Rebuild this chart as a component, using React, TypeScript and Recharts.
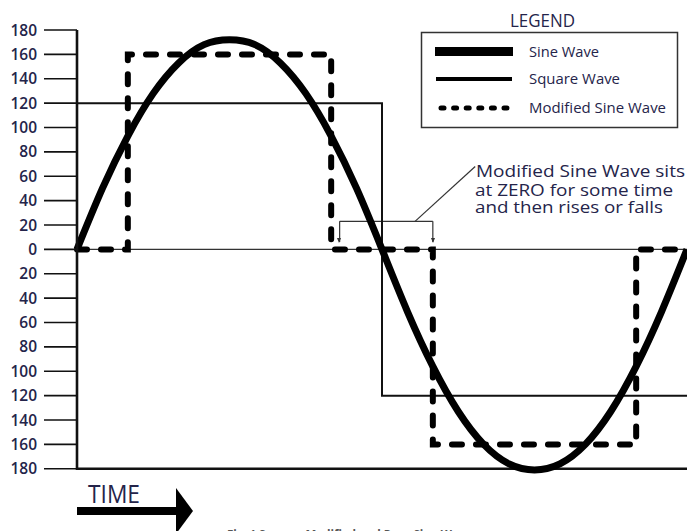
import React from 'react';
import { LineChart, Line, XAxis, YAxis, ReferenceLine } from 'recharts';

// ---- data (time in degrees of one cycle, values in volts) ----
const sineTimes = [0, 15, 30, 45, 60, 75, 90, 105, 120, 135, 150, 165, 180, 195, 210, 225, 240, 255, 270, 285, 300, 315, 330, 345, 360];
const sineValues = [0, 50, 93, 128, 153, 168, 172, 168, 153, 128, 93, 50, 0, -51, -96, -133, -160, -176, -181, -176, -160, -133, -96, -51, 0];

const squareTimes = [0, 180, 180, 360];
const squareValues = [120, 120, -120, -120];

const modTimes = [0, 30, 30, 150, 150, 210, 210, 330, 330, 360];
const modValues = [0, 0, 160, 160, 0, 0, -160, -160, 0, 0];

const yTicks = [180, 160, 140, 120, 100, 80, 60, 40, 20, 0, -20, -40, -60, -80, -100, -120, -140, -160, -180];

const seriesNames = ['Sine Wave', 'Square Wave', 'Modified Sine Wave'];
const legendTitle = 'LEGEND';
const noteLines = ['Modified Sine Wave sits', 'at ZERO for some time', 'and then rises or falls'];
const timeLabel = 'TIME';
const caption = 'Fig. 1 Square, Modified and Pure Sine Wave';

// bracket marking the zero interval and its leader line (time, value)
const bracketTop = [{ x: 155, y: 23 }, { x: 210, y: 23 }];
const bracketLeft = [{ x: 155, y: 23 }, { x: 155, y: 6 }];
const bracketRight = [{ x: 210, y: 23 }, { x: 210, y: 6 }];
const leader = [{ x: 199.5, y: 23 }, { x: 235, y: 68 }];

const sineData = sineTimes.map((t, i) => ({ t, v: sineValues[i] }));
const squareData = squareTimes.map((t, i) => ({ t, v: squareValues[i] }));
const modData = modTimes.map((t, i) => ({ t, v: modValues[i] }));

const FONT = "'Open Sans', 'DejaVu Sans', sans-serif";
const TEXT = '#24244a';

export default function App() {
  return (
    <div style={{ position: 'absolute', left: 0, top: 0, width: 687, height: 531, background: '#fff', overflow: 'hidden' }}>
      <LineChart width={687} height={531} margin={{ top: 30, right: 0, bottom: 61, left: 0 }}>
        <XAxis type="number" dataKey="t" domain={[0, 360]} hide allowDuplicatedCategory={false} />
        <YAxis
          type="number"
          domain={[-180, 180]}
          ticks={yTicks}
          interval={0}
          width={77}
          tickSize={33}
          tickMargin={7}
          tickFormatter={(v: number) => String(Math.abs(v))}
          tick={{ fill: TEXT, fontSize: 15.5, fontWeight: 600, fontFamily: FONT }}
          tickLine={{ stroke: '#111', strokeWidth: 1.6 }}
          axisLine={{ stroke: '#111', strokeWidth: 2.6 }}
        />
        <ReferenceLine y={0} stroke="#333" strokeWidth={1.4} />
        <ReferenceLine y={-180} stroke="#111" strokeWidth={2.6} />
        <ReferenceLine segment={bracketTop} stroke="#333" strokeWidth={1.2} ifOverflow="visible" />
        <ReferenceLine segment={bracketLeft} stroke="#333" strokeWidth={1.2} ifOverflow="visible" />
        <ReferenceLine segment={bracketRight} stroke="#333" strokeWidth={1.2} ifOverflow="visible" />
        <ReferenceLine segment={leader} stroke="#333" strokeWidth={1.2} ifOverflow="visible" />
        <Line
          data={squareData}
          dataKey="v"
          type="linear"
          stroke="#111"
          strokeWidth={2}
          dot={false}
          activeDot={false}
          isAnimationActive={false}
        />
        <Line
          data={modData}
          dataKey="v"
          type="linear"
          stroke="#000"
          strokeWidth={6}
          strokeDasharray="10 14"
          strokeLinecap="round"
          dot={false}
          activeDot={false}
          isAnimationActive={false}
        />
        <Line
          data={sineData}
          dataKey="v"
          type="natural"
          stroke="#000"
          strokeWidth={7}
          dot={false}
          activeDot={false}
          isAnimationActive={false}
        />
      </LineChart>
      <svg
        width={687}
        height={531}
        style={{ position: 'absolute', left: 0, top: 0, pointerEvents: 'none' }}
        fontFamily={FONT}
      >
        {/* legend */}
        <text x={510} y={27} fontSize={18} fill={TEXT} textLength={65} lengthAdjust="spacingAndGlyphs">{legendTitle}</text>
        <rect x={421.5} y={32.5} width={256} height={95} fill="#fff" stroke="#333" strokeWidth={1.5} />
        <rect x={435} y={47} width={78} height={9} fill="#000" />
        <rect x={436} y={77} width={76} height={4} fill="#000" />
        <line x1={441} y1={108} x2={508} y2={108} stroke="#000" strokeWidth={5} strokeDasharray="3 9.6" strokeLinecap="round" />
        <text x={529} y={57} fontSize={14.5} fill={TEXT} textLength={70} lengthAdjust="spacingAndGlyphs">{seriesNames[0]}</text>
        <text x={529} y={84} fontSize={14.5} fill={TEXT} textLength={91} lengthAdjust="spacingAndGlyphs">{seriesNames[1]}</text>
        <text x={529} y={113} fontSize={14.5} fill={TEXT} textLength={137} lengthAdjust="spacingAndGlyphs">{seriesNames[2]}</text>

        {/* annotation */}
        <text x={476} y={177} fontSize={17} fill={TEXT} textLength={209} lengthAdjust="spacingAndGlyphs">{noteLines[0]}</text>
        <text x={475} y={195.5} fontSize={17} fill={TEXT} textLength={198} lengthAdjust="spacingAndGlyphs">{noteLines[1]}</text>
        <text x={475} y={213} fontSize={17} fill={TEXT} textLength={188} lengthAdjust="spacingAndGlyphs">{noteLines[2]}</text>
        <polygon points="337,238 341,238 339,243" fill="#333" />
        <polygon points="431,238 435,238 433,243" fill="#333" />

        {/* time arrow */}
        <text x={88} y={503} fontSize={26} fill={TEXT} textLength={52} lengthAdjust="spacingAndGlyphs">{timeLabel}</text>
        <rect x={77} y={507} width={102} height={8} fill="#000" />
        <polygon points="176,488 193,511 176,534" fill="#000" />

        {/* caption (cut off at the bottom edge, as in the reference) */}
        <text x={227} y={540} fontSize={15} fontWeight={700} fill="#555" textLength={245} lengthAdjust="spacingAndGlyphs">{caption}</text>
      </svg>
    </div>
  );
}
